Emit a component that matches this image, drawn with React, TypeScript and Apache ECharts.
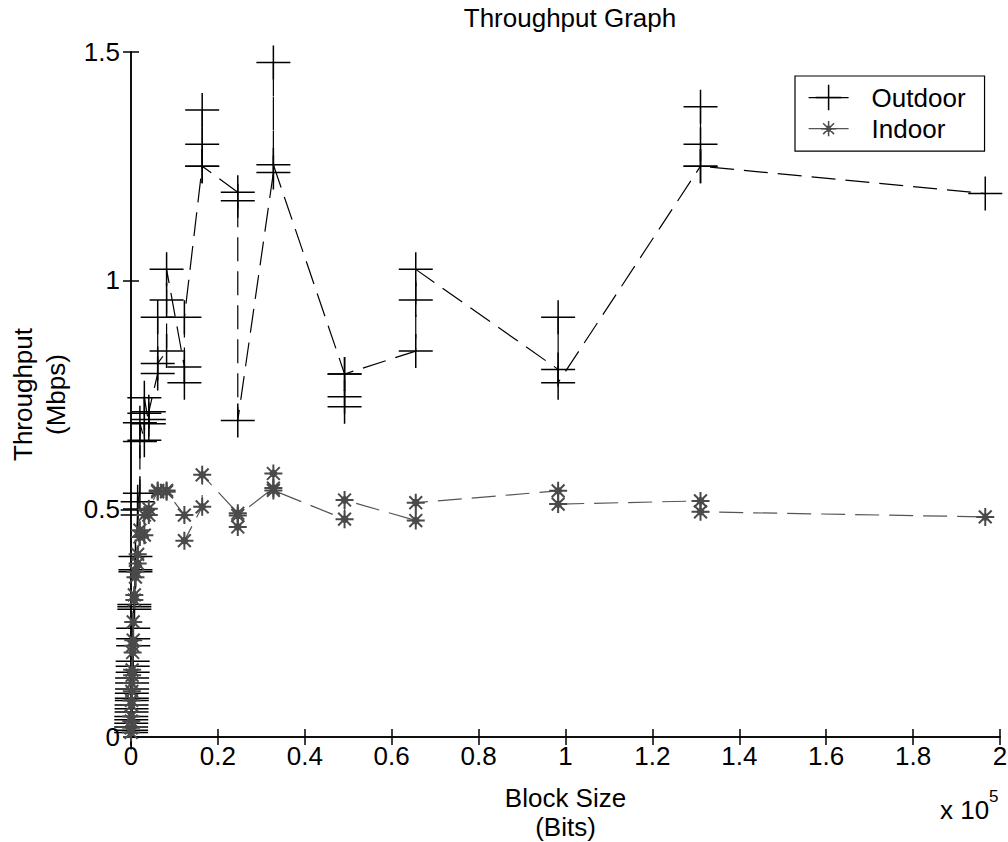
import React, { useEffect, useRef } from 'react';
import * as echarts from 'echarts';

// ---- data (block size in bits, throughput in Mbps) ----
const outdoorBlockSize = [
  32, 32, 32, 64, 64, 64, 128, 128, 128, 192, 192, 192, 256, 256, 256,
  384, 384, 384, 512, 512, 512, 768, 768, 768, 1024, 1024, 1024,
  1536, 1536, 1536, 2048, 2048, 2048, 3072, 3072, 3072, 4096, 4096, 4096,
  6144, 6144, 6144, 8192, 8192, 8192, 12288, 12288, 12288,
  16384, 16384, 16384, 16384, 24576, 24576, 24576, 32768, 32768, 32768,
  49152, 49152, 49152, 49152, 65536, 65536, 65536, 98304, 98304, 98304,
  131072, 131072, 131072, 131072, 196608,
];
const outdoorThroughput = [
  0.010, 0.022, 0.015, 0.030, 0.045, 0.038, 0.055, 0.070, 0.062, 0.085, 0.096, 0.080,
  0.118, 0.105, 0.129, 0.155, 0.166, 0.142, 0.200, 0.215, 0.238, 0.285, 0.280, 0.290,
  0.366, 0.362, 0.395, 0.486, 0.497, 0.515, 0.534, 0.647, 0.688, 0.650, 0.709, 0.743,
  0.686, 0.695, 0.712, 0.796, 0.919, 0.818, 0.845, 0.957, 1.024, 0.810, 0.776, 0.919,
  1.250, 1.373, 1.298, 1.250, 1.193, 1.174, 0.693, 1.236, 1.477, 1.253,
  0.795, 0.723, 0.745, 0.795, 0.845, 0.957, 1.024, 0.805, 0.919, 0.776,
  1.250, 1.380, 1.298, 1.250, 1.190,
];
const indoorBlockSize = [
  32, 32, 64, 64, 128, 128, 192, 192, 256, 256, 384, 384, 512, 512, 768, 768,
  1024, 1024, 1536, 1536, 2048, 2048, 3072, 3072, 4096, 4096, 6144, 6144,
  8192, 8192, 12288, 12288, 16384, 16384, 24576, 24576, 24576, 32768, 32768, 32768,
  49152, 49152, 65536, 65536, 98304, 98304, 131072, 131072, 196608,
];
const indoorThroughput = [
  0.010, 0.020, 0.035, 0.045, 0.070, 0.080, 0.100, 0.118, 0.147, 0.135, 0.185, 0.200,
  0.212, 0.252, 0.300, 0.311, 0.362, 0.350, 0.380, 0.400, 0.438, 0.453, 0.442, 0.486,
  0.486, 0.500, 0.537, 0.540, 0.540, 0.537, 0.486, 0.430, 0.504, 0.574,
  0.490, 0.460, 0.485, 0.545, 0.577, 0.540, 0.477, 0.519, 0.474, 0.513,
  0.539, 0.510, 0.517, 0.493, 0.482,
];
const seriesNames = ['Outdoor', 'Indoor'];
const chartTitle = 'Throughput Graph';
const xAxisTitle = 'Block Size\n(Bits)';
const yAxisTitle = 'Throughput\n(Mbps)';
const xScaleText = 'x 10';
const xScaleExp = '5';

const FONT = '"Liberation Sans", Arial, sans-serif';
const PLUS = 'path://M17,0L17,34M0,17L34,17';
// star drawn in 0..18 with invisible padding (-6..24) so the legend icon stays small
const STAR =
  'path://M-6,-6M24,24M9,0L9,18M0,9L18,9M2.6,2.6L15.4,15.4M15.4,2.6L2.6,15.4M5.5,9L9,5.5L12.5,9L9,12.5Z';

export default function App() {
  const ref = useRef<HTMLDivElement>(null);
  useEffect(() => {
    if (!ref.current) return;
    const chart = echarts.init(ref.current, undefined, { renderer: 'svg' });
    const outdoorData = outdoorBlockSize.map((x, i) => [x, outdoorThroughput[i]]);
    const indoorData = indoorBlockSize.map((x, i) => [x, indoorThroughput[i]]);
    const axisLine = { show: true, lineStyle: { color: '#000', width: 1.5 } };
    const axisTick = { show: true, inside: true, length: 8, lineStyle: { color: '#000', width: 1.5 } };
    chart.setOption({
      animation: false,
      backgroundColor: '#fff',
      title: {
        text: chartTitle,
        left: 565,
        textAlign: 'center',
        top: 0,
        textStyle: { fontFamily: FONT, fontSize: 26, fontWeight: 'normal', color: '#000' },
      },
      legend: {
        data: seriesNames,
        orient: 'vertical',
        left: 795,
        top: 76,
        padding: [8, 19, 9, 13],
        itemGap: 4,
        itemWidth: 40,
        itemHeight: 32,
        borderColor: '#000',
        borderWidth: 1.2,
        borderRadius: 0,
        backgroundColor: '#fff',
        textStyle: { fontFamily: FONT, fontSize: 26, color: '#000', padding: [0, 0, 0, 18] },
        lineStyle: { type: 'solid', width: 1.2 },
        itemStyle: { borderWidth: 1.5 },
      },
      grid: { left: 131, right: 8, top: 52, bottom: 105, containLabel: false, outerBoundsMode: 'none' },
      xAxis: [
        {
          type: 'value',
          min: 0,
          max: 200000,
          interval: 20000,
          name: xAxisTitle,
          nameLocation: 'middle',
          nameGap: 46,
          nameTextStyle: { fontFamily: FONT, fontSize: 26, color: '#000', lineHeight: 29 },
          axisLine,
          axisTick,
          splitLine: { show: false },
          axisLabel: {
            fontFamily: FONT,
            fontSize: 26,
            color: '#000',
            margin: 6,
            formatter: (v: number) => String(parseFloat((v / 100000).toFixed(1))),
          },
        },
        {
          type: 'value',
          position: 'top',
          min: 0,
          max: 200000,
          interval: 20000,
          axisLine,
          axisTick,
          splitLine: { show: false },
          axisLabel: { show: false },
        },
      ],
      yAxis: [
        {
          type: 'value',
          min: 0,
          max: 1.5,
          interval: 0.5,
          name: yAxisTitle,
          nameLocation: 'middle',
          nameGap: 59,
          nameRotate: 90,
          nameTextStyle: { fontFamily: FONT, fontSize: 26, color: '#000', lineHeight: 33 },
          axisLine,
          axisTick,
          splitLine: { show: false },
          axisLabel: { fontFamily: FONT, fontSize: 26, color: '#000', margin: 11 },
        },
        {
          type: 'value',
          position: 'right',
          min: 0,
          max: 1.5,
          interval: 0.5,
          axisLine,
          axisTick,
          splitLine: { show: false },
          axisLabel: { show: false },
        },
      ],
      graphic: [
        {
          type: 'text',
          left: 940,
          top: 797,
          style: { text: xScaleText, fontFamily: FONT, fontSize: 26, fill: '#000' },
        },
        {
          type: 'text',
          left: 989,
          top: 788,
          style: { text: xScaleExp, fontFamily: FONT, fontSize: 17, fill: '#000' },
        },
      ],
      series: [
        {
          name: seriesNames[0],
          type: 'line',
          data: outdoorData,
          symbol: PLUS,
          symbolSize: 34,
          clip: false,
          lineStyle: { color: '#000', width: 1.2, type: [24, 10] },
          itemStyle: { color: '#000', borderColor: '#000', borderWidth: 1.5 },
        },
        {
          name: seriesNames[1],
          type: 'line',
          data: indoorData,
          symbol: STAR,
          symbolSize: 30,
          clip: false,
          lineStyle: { color: '#555', width: 1.2, type: [24, 10] },
          itemStyle: { color: '#4a4a4a', borderColor: '#4a4a4a', borderWidth: 2 },
        },
      ],
    });
    return () => chart.dispose();
  }, []);
  return (
    <div
      ref={ref}
      style={{ position: 'fixed', left: 0, top: 0, width: 1008, height: 842, background: '#fff' }}
    />
  );
}
